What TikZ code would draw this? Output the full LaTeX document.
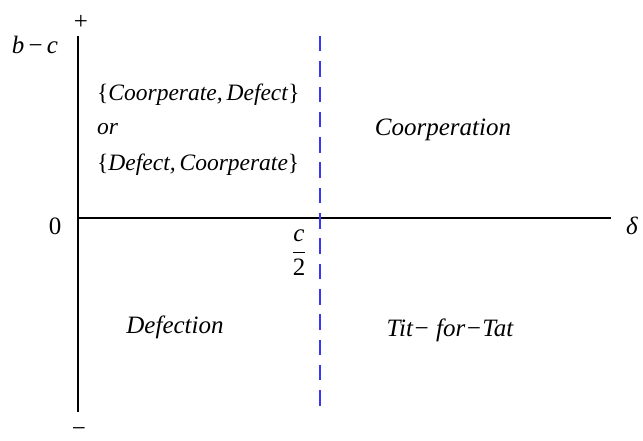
\documentclass[tikz,border=0pt]{standalone}
\usepackage{amsmath}
\usepackage{fontspec}
\setmainfont{Liberation Serif}
\newfontfamily\tms{Liberation Serif}
\usepackage{tikz}
\usetikzlibrary{positioning}

\begin{document}
\begin{tikzpicture}[x=1pt, y=-1pt,
  lbl/.style={font=\tms\fontsize{25}{30}\selectfont, inner sep=1pt},
  region/.style={lbl, font=\tms\fontsize{25}{30}\selectfont\itshape},
  pair/.style={lbl, font=\tms\fontsize{23.5}{28}\selectfont\itshape, anchor=west},
  axis/.style={line width=1.3pt},
  cut/.style={line width=1.5pt, draw={rgb,255:red,55;green,55;blue,245}, dash pattern=on 15.5pt off 9.8pt}]
\useasboundingbox (0,0) rectangle (643,441);
% axes
\coordinate (top) at (78,36);
\coordinate (bot) at (78,412);
\coordinate (orig) at (78,218);
\coordinate (right) at (611,218);
\draw[axis] (top) -- (bot);
\draw[axis] (orig) -- (right);
% threshold
\coordinate (ctop) at (320,36);
\coordinate (cbot) at (320,408);
\draw[cut] (ctop) -- (cbot);

\node[lbl] (plus) at (81,22) {+};
\node[lbl] (minus) at (79,432) {−};
\node[lbl] (bc) at (35,45) {\textit{b\,}−\,\textit{c}};
\node[lbl] (zero) at (55,226) {0};
\node[lbl] (delta) at (632,226) {\textit{δ}};
\node[lbl] (half) at (299,253) {$\dfrac{\textit{c}}{\textup{2}}$};

\node[pair] (cd) at (96,95) {\textup{\{}Coorperate,\,Defect\textup{\}}};
\node[pair] (or) at (96,129) {or};
\node[pair] (dc) at (96,165) {\textup{\{}Defect,\,Coorperate\textup{\}}};
\node[region] (coop) at (443,130) {Coorperation};
\node[region] (defn) at (175,327) {Defection};
\node[region] (tft) at (450,330) {Tit− for−Tat};
\end{tikzpicture}
\end{document}
